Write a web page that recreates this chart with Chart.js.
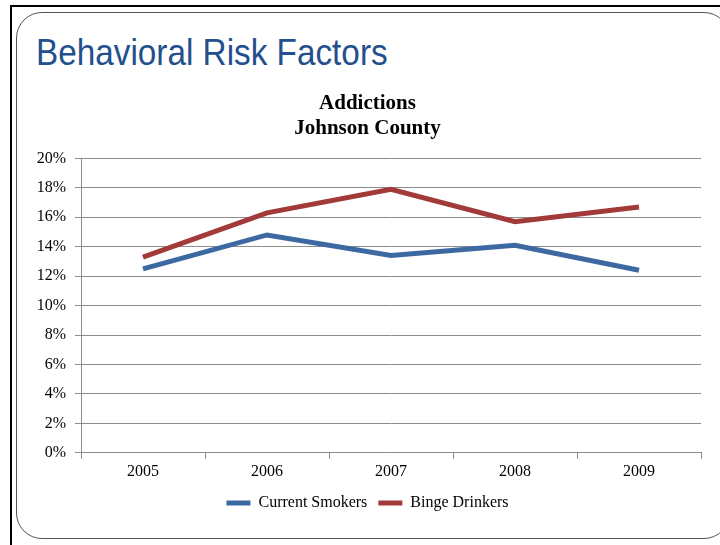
<!DOCTYPE html>
<html>
<head>
<meta charset="utf-8">
<script src="https://cdn.jsdelivr.net/npm/chart.js@4.4.1/dist/chart.umd.min.js"></script>
<style>
  html, body { margin: 0; padding: 0; background: #fff; }
  body { width: 720px; height: 545px; position: relative; overflow: hidden; }
  .frame {
    position: absolute; left: 10px; top: 5px; width: 720px; height: 560px;
    border-top: 2px solid #000; border-left: 2px solid #000;
  }
  .slide {
    position: absolute; left: 16px; top: 12px; width: 712px; height: 525px;
    border: 1.5px solid #555; border-radius: 26px; background: #fff;
  }
  .heading {
    position: absolute; left: 36px; top: 35px; margin: 0; line-height: 1;
    font-family: "Liberation Sans", Arial, sans-serif;
    font-weight: normal; font-size: 36px; color: #234F8C;
    transform: scaleX(0.925); transform-origin: left top; white-space: nowrap;
  }
  .chart-box { position: absolute; left: 0; top: 88px; width: 720px; height: 433px; }
</style>
</head>
<body>
<div class="frame"></div>
<div class="slide"></div>
<h1 class="heading">Behavioral Risk Factors</h1>
<div class="chart-box"><canvas id="lineChart"></canvas></div>
<script>
// 成瘾行为 — 两条折线（吸烟者 / 酗酒者）
const years = ['2005', '2006', '2007', '2008', '2009'];
const smokers = [12.5, 14.8, 13.4, 14.1, 12.4];
const bingeDrinkers = [13.3, 16.3, 17.9, 15.7, 16.7];
const yTicks = [0, 2, 4, 6, 8, 10, 12, 14, 16, 18, 20];

const serif = '"Liberation Serif", "Times New Roman", serif';

const lineChart = new Chart(document.getElementById('lineChart'), {
  type: 'line',
  data: {
    labels: years,
    datasets: [
      {
        label: 'Current Smokers',
        data: smokers,
        borderColor: '#3D69A3',
        backgroundColor: '#3D69A3',
        borderWidth: 5,
        pointRadius: 0,
        tension: 0
      },
      {
        label: 'Binge Drinkers',
        data: bingeDrinkers,
        borderColor: '#A33A3A',
        backgroundColor: '#A33A3A',
        borderWidth: 5,
        pointRadius: 0,
        tension: 0
      }
    ]
  },
  options: {
    responsive: true,
    maintainAspectRatio: false,
    animation: false,
    layout: { padding: { left: 34, right: 19, bottom: 0 } },
    plugins: {
      title: {
        display: true,
        text: ['Addictions', 'Johnson County'],
        color: '#000',
        font: { family: serif, size: 21, weight: 'bold', lineHeight: 1.2 },
        padding: { top: 3, bottom: 17 }
      },
      legend: {
        position: 'bottom',
        labels: {
          usePointStyle: true,
          pointStyle: 'line',
          pointStyleWidth: 24,
          color: '#000',
          font: { family: serif, size: 16 },
          padding: 11
        }
      },
      tooltip: { enabled: false }
    },
    scales: {
      x: {
        offset: true,
        grid: { offset: true, drawOnChartArea: false, tickLength: 6, color: '#8c8c8c' },
        border: { color: '#8c8c8c' },
        ticks: { color: '#000', font: { family: serif, size: 16 }, padding: 3 }
      },
      y: {
        min: 0,
        max: 20,
        afterBuildTicks: axis => { axis.ticks = yTicks.map(v => ({ value: v })); },
        afterFit: axis => { axis.width = 47; },
        grid: { color: '#8c8c8c', tickLength: 6 },
        border: { color: '#8c8c8c' },
        ticks: {
          color: '#000',
          font: { family: serif, size: 16 },
          padding: 9,
          callback: v => v + '%'
        }
      }
    }
  }
});
</script>
</body>
</html>
